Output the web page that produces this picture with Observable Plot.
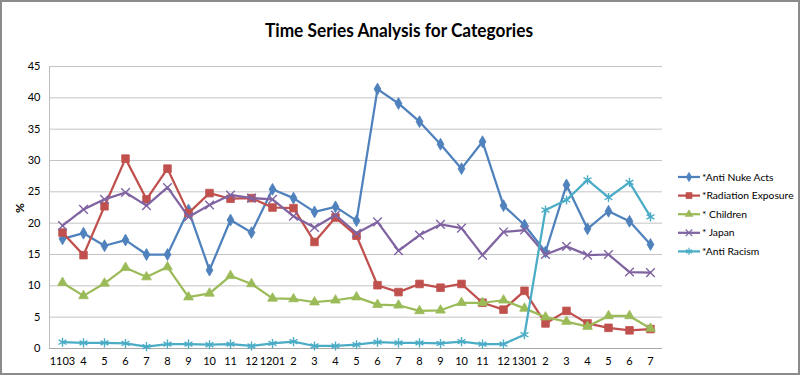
<!DOCTYPE html>
<html>
<head>
<meta charset="utf-8">
<script src="https://cdn.jsdelivr.net/npm/d3@7"></script>
<script src="https://cdn.jsdelivr.net/npm/@observablehq/plot@0.6"></script>
<style>
  body { margin: 0; background: #fff; }
  #wrap { position: relative; width: 800px; height: 375px; overflow: hidden; background: #fff; font-family: Lato, "Open Sans", sans-serif; }
  #wrap > svg, #wrap > div.abs { position: absolute; }
  #border { position: absolute; left: 0; top: 0; width: 800px; height: 375px; box-sizing: border-box; border: 2px solid #8c8c8c; pointer-events: none; }
  #ylab { position: absolute; left: 12px; top: 200px; width: 16px; height: 16px; transform: rotate(-90deg); font: bold 12px Lato, sans-serif; text-align: center; line-height: 16px; color: #000; }
</style>
</head>
<body>
<div id="wrap"></div>
<script>
// ---- data ----
const months = ["1103","1104","1105","1106","1107","1108","1109","1110","1111","1112",
  "1201","1202","1203","1204","1205","1206","1207","1208","1209","1210","1211","1212",
  "1301","1302","1303","1304","1305","1306","1307"];
const tickLabels = ["1103","4","5","6","7","8","9","10","11","12",
  "1201","2","3","4","5","6","7","8","9","10","11","12",
  "1301","2","3","4","5","6","7"];
const yTicks = [0,5,10,15,20,25,30,35,40,45];

const antiNuke   = [17.5,18.4,16.4,17.3,15.0,15.0,22.1,12.5,20.5,18.5,25.4,24.0,21.8,22.6,20.4,41.4,39.1,36.2,32.6,28.7,33.0,22.8,19.7,15.4,26.1,19.1,21.9,20.3,16.6];
const radiation  = [18.5,14.9,22.7,30.3,23.8,28.7,21.6,24.8,23.9,24.0,22.5,22.4,17.0,20.9,18.0,10.1,9.0,10.3,9.7,10.3,7.3,6.2,9.2,4.0,6.0,4.0,3.3,2.9,3.1];
const children   = [10.5,8.4,10.4,12.9,11.4,13.0,8.2,8.8,11.6,10.3,8.0,7.9,7.4,7.7,8.2,7.0,6.9,6.0,6.1,7.3,7.3,7.7,6.4,5.0,4.3,3.5,5.2,5.2,3.2];
const japan      = [19.6,22.2,23.8,24.9,22.8,25.7,21.0,22.9,24.5,24.0,23.8,21.1,19.3,21.3,18.4,20.2,15.6,18.1,19.8,19.2,14.9,18.6,18.9,15.0,16.3,14.9,15.0,12.2,12.1];
const antiRacism = [1.0,0.9,0.9,0.8,0.3,0.7,0.7,0.6,0.7,0.4,0.8,1.1,0.4,0.4,0.6,1.0,0.9,0.9,0.8,1.1,0.7,0.7,2.2,22.1,23.7,26.9,24.1,26.5,21.0];

const seriesNames = ["*Anti Nuke Acts","*Radiation Exposure","* Children","* Japan","*Anti Racism"];
const seriesValues = [antiNuke, radiation, children, japan, antiRacism];
const seriesColors = ["#4F81BD","#C0504D","#9BBB59","#8064A2","#4BACC6"];
const seriesSymbols = ["diamond","square","triangle","times","asterisk"];
const seriesR = [3.6, 4.3, 3.6, 4.0, 4.3];

// ---- build ----
const wrap = document.getElementById("wrap");

const seriesMarks = [];
seriesNames.forEach((name, k) => {
  const rows = months.map((m, i) => ({month: m, value: seriesValues[k][i], series: name}));
  seriesMarks.push(Plot.line(rows, {x: "month", y: "value", stroke: seriesColors[k], strokeWidth: 2.25}));
  const filled = k < 3;
  seriesMarks.push(Plot.dot(rows, {
    x: "month", y: "value", symbol: seriesSymbols[k], r: seriesR[k],
    fill: filled ? seriesColors[k] : "none",
    stroke: seriesColors[k], strokeWidth: filled ? 0.8 : 1.4
  }));
});

const chart = Plot.plot({
  width: 800, height: 375,
  marginLeft: 49, marginRight: 138, marginTop: 66, marginBottom: 27,
  style: {fontFamily: "Lato, 'Open Sans', sans-serif", fontSize: "11px", color: "#000", background: "transparent", overflow: "visible"},
  x: {type: "point", domain: months, padding: 0.5, label: null},
  y: {domain: [0, 45], label: null},
  marks: [
    Plot.gridY(yTicks, {stroke: "#c4c4c4", strokeOpacity: 1}),
    Plot.frame({anchor: "left", stroke: "#bdbdbd"}),
    Plot.ruleY([0], {stroke: "#a8a8a8"}),
    Plot.axisY(yTicks, {tickSize: 0, tickPadding: 9, label: null}),
    Plot.axisX({tickSize: 0, tickPadding: 9, label: null, tickFormat: d => tickLabels[months.indexOf(d)]}),
    ...seriesMarks
  ]
});
chart.style.left = "0px";
chart.style.top = "0px";
wrap.appendChild(chart);

// title
const tsvg = d3.select(wrap).append("svg")
  .attr("width", 800).attr("height", 50)
  .style("left", "0px").style("top", "0px");
tsvg.append("text")
  .attr("x", 399).attr("y", 37)
  .attr("text-anchor", "middle")
  .attr("textLength", 268).attr("lengthAdjust", "spacingAndGlyphs")
  .style("font", "bold 19px Lato, 'Open Sans', sans-serif")
  .style("fill", "#000")
  .text("Time Series Analysis for Categories");

// y label
const yl = document.createElement("div");
yl.id = "ylab";
yl.textContent = "%";
wrap.appendChild(yl);

// legend
const lsvg = d3.select(wrap).append("svg")
  .attr("width", 127).attr("height", 100)
  .style("left", "670px").style("top", "165px");
seriesNames.forEach((name, k) => {
  const y = 12 + k * 18.6;
  const g = lsvg.append("g");
  g.append("line").attr("x1", 8).attr("x2", 30).attr("y1", y).attr("y2", y)
    .attr("stroke", seriesColors[k]).attr("stroke-width", 2.25);
  const symType = {diamond: d3.symbolDiamond, square: d3.symbolSquare, triangle: d3.symbolTriangle, times: d3.symbolTimes, asterisk: d3.symbolAsterisk}[seriesSymbols[k]];
  const filled = k < 3;
  g.append("path")
    .attr("transform", `translate(19,${y})`)
    .attr("d", d3.symbol(symType, Math.PI * seriesR[k] * seriesR[k] * 0.6)())
    .attr("fill", filled ? seriesColors[k] : "none")
    .attr("stroke", seriesColors[k]).attr("stroke-width", filled ? 0.8 : 1.2);
  g.append("text").attr("x", 32).attr("y", y).attr("dy", "0.35em")
    .style("font", "10.3px Lato, 'Open Sans', sans-serif").style("fill", "#000")
    .text(name);
});

// border
const b = document.createElement("div");
b.id = "border";
wrap.appendChild(b);
</script>
</body>
</html>
